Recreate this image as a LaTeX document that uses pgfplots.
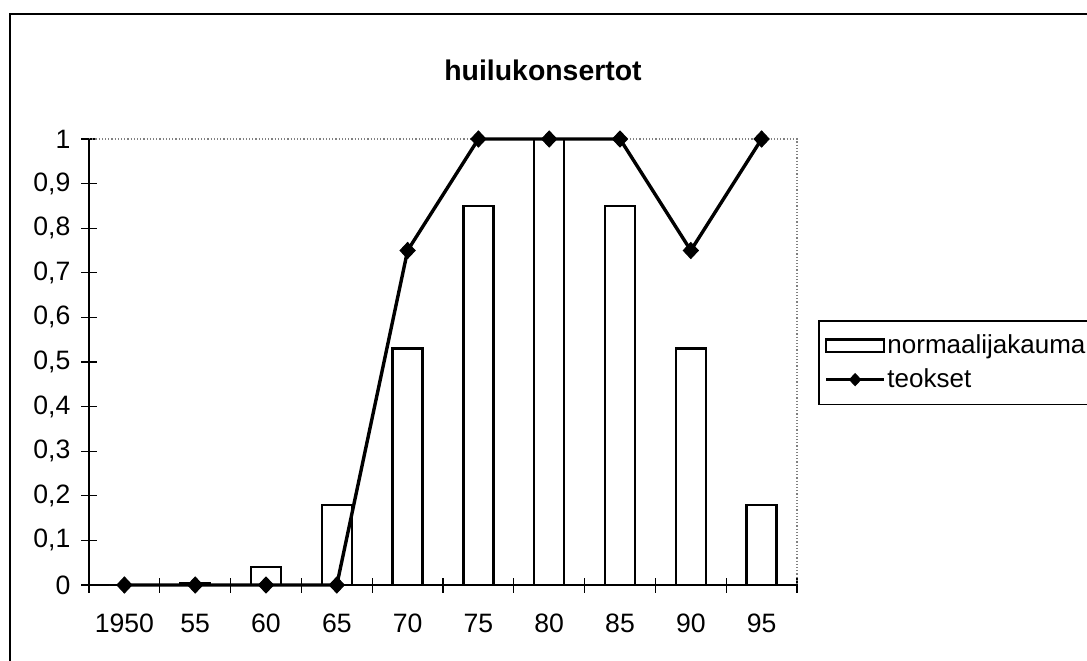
\documentclass[border=0pt]{standalone}
\usepackage{fontspec}
\setmainfont{Liberation Sans}
\usepackage{pgfplots}
\pgfplotsset{compat=1.18}
\begin{document}
\begin{tikzpicture}
\path[use as bounding box] (0pt,0pt) rectangle (543.5pt,330pt);
\draw[line width=0.8pt] (5pt,-2pt) -- (5pt,323pt) -- (546pt,323pt);
\node[font=\fontsize{14.2}{16}\selectfont\bfseries] at (271.5pt,295pt) {huilukonsertot};
\begin{axis}[
  at={(44.5pt,37.5pt)}, anchor=south west,
  scale only axis, width=354pt, height=223pt,
  xmin=-0.5, xmax=9.5, ymin=0, ymax=1,
  clip=false,
  axis line style={draw=none},
  tick pos=left,
  tick align=center,
  major tick length=7.5pt,
  minor tick length=7.5pt,
  tick style={black, line width=0.6pt},
  xtick={0,...,9},
  xticklabels={1950,55,60,65,70,75,80,85,90,95},
  major x tick style={draw=none},
  minor xtick={-0.5,0.5,1.5,2.5,3.5,4.5,5.5,6.5,7.5,8.5,9.5},
  ytick={0,0.1,0.2,0.3,0.4,0.5,0.6,0.7,0.8,0.9,1},
  yticklabels={0,{0,1},{0,2},{0,3},{0,4},{0,5},{0,6},{0,7},{0,8},{0,9},1},
  ticklabel style={font=\fontsize{13.3}{15}\selectfont},
  xticklabel style={anchor=north, text height=9.6pt, text depth=0pt, yshift=-7pt},
  yticklabel style={xshift=-2pt},
  legend style={at={(1.0297,0.594)}, anchor=north west, draw=black, line width=0.8pt,
    font=\fontsize{13}{15}\selectfont, row sep=4pt, inner xsep=3pt, inner ysep=6pt,
    nodes={inner sep=1pt}},
  legend cell align=left,
]
\draw[gray, densely dotted, line width=0.6pt] (rel axis cs:0,1) -- (rel axis cs:1,1) -- (rel axis cs:1,0);
\draw[black, line width=0.6pt] (rel axis cs:0,1) -- (rel axis cs:0,0) -- (rel axis cs:1,0);
\addplot[ybar, bar width=15pt, draw=black, fill=white, line width=1.2pt,
  legend image code/.code={\draw[line width=1.1pt, fill=white] (0pt,-3.2pt) rectangle (29pt,3.2pt);}]
  coordinates {(0,0) (1,0.005) (2,0.04) (3,0.18) (4,0.53) (5,0.85) (6,1) (7,0.85) (8,0.53) (9,0.18)};
\addlegendentry{normaalijakauma}
\addplot[sharp plot, black, line width=1.7pt, mark=diamond*, mark size=4pt,
  mark options={solid, fill=black, line width=0.5pt, xscale=1.25},
  legend image code/.code={\draw[line width=1.3pt, mark repeat=2, mark phase=2, mark size=3pt] plot coordinates {(0pt,0pt) (14.5pt,0pt) (29pt,0pt)};}]
  coordinates {(0,0) (1,0) (2,0) (3,0) (4,0.75) (5,1) (6,1) (7,1) (8,0.75) (9,1)};
\addlegendentry{teokset}
\end{axis}
\end{tikzpicture}
\end{document}
